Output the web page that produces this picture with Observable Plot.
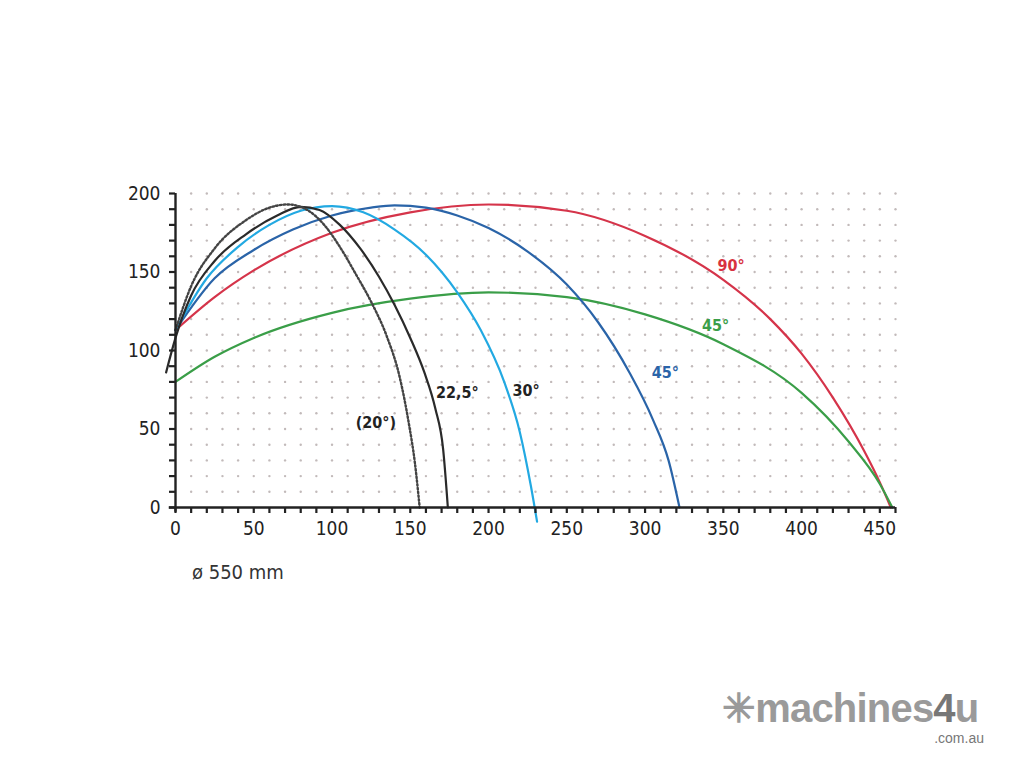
<!DOCTYPE html>
<html>
<head>
<meta charset="utf-8">
<script src="https://cdn.jsdelivr.net/npm/d3@7"></script>
<script src="https://cdn.jsdelivr.net/npm/@observablehq/plot@0.6"></script>
<style>
  html, body { margin: 0; padding: 0; background: #fff; }
  #wrap { position: relative; width: 1024px; height: 768px; overflow: hidden; }
  #chart { position: absolute; left: 0; top: 0; }
  #caption { position: absolute; left: 192px; top: 560px; font-family: "Liberation Sans Narrow", "DejaVu Sans Condensed", "Liberation Sans", sans-serif; font-size: 20px; color: #333; }
  #brand { position: absolute; left: 722px; top: 690px; width: 266px; font-family: "Liberation Sans", Arial, sans-serif; color: #9a9a9a; line-height: 1; }
  #brand .main { display: block; font-size: 40px; font-weight: bold; letter-spacing: -0.8px; white-space: nowrap; line-height: 36px; }
  #brand .main .four { color: #777; }
  #brand .sub { display: block; text-align: right; margin-top: 5px; padding-right: 4px; font-size: 14px; line-height: 14px; color: #777; }
</style>
</head>
<body>
<div id="wrap">
  <div id="chart"></div>
  <div id="caption">ø 550 mm</div>
  <div id="brand"><span class="main">✳machines<span class="four">4</span>u</span><span class="sub">.com.au</span></div>
</div>
<script>
// ---- data ----
const xTicks = [0, 50, 100, 150, 200, 250, 300, 350, 400, 450];
const yTicks = [0, 50, 100, 150, 200];

const curve20 = [[0,113],[10,141],[25,165],[45,183],[60,191],[72,193],[85,189],[95,180],[105,166],[115,149],[125,131],[135,109],[143,84],[149,54],[153,28],[156,0]];
const curve22 = [[-6,86],[0,108],[10,135],[25,157],[45,174],[65,186],[80,191.5],[92,189.5],[105,180],[118,165],[130,147],[140,129],[150,108],[159,86],[166,63],[171,37],[174,0]];
const curve30 = [[0,113],[20,146],[40,166],[60,180],[80,189],[100,192],[120,188],[140,177],[160,161],[180,137],[195,113],[210,80],[220,48],[227,14],[231,-9]];
const curve45b = [[0,113],[25,146],[50,164],[75,177],[100,186],[125,191],[140,192.5],[160,191],[180,186],[200,178],[225,163],[250,142],[270,118],[290,86],[305,56],[315,30],[322,0]];
const curve90 = [[0,113],[25,134],[50,151],[100,175],[150,188],[200,193],[250,189],[300,173],[350,145],[380,120],[400,98],[420,70],[440,36],[450,16],[457,0]];
const curve45g = [[0,80],[25,96],[50,108],[100,124],[150,133],[200,137],[250,134],[300,123],[350,104],[400,73],[430,42],[450,15],[458,0]];

const labelText = ["(20°)", "22,5°", "30°", "45°", "90°", "45°"];
const labelX = [128, 180, 224, 313, 355, 345];
const labelY = [54, 73, 74, 86, 154, 116];
const labelColor = ["#222", "#222", "#222", "#2a64a8", "#d8323f", "#3a9e48"];

// ---- build ----
const font = '"Liberation Sans Narrow", "DejaVu Sans Condensed", "Liberation Sans", sans-serif';
const toObj = (pts) => pts.map(([x, y]) => ({x, y}));
const grid = [];
for (const gx of d3.range(10, 461, 10)) for (const gy of d3.range(10, 201, 10)) grid.push({x: gx, y: gy});
const labels = labelText.map((t, i) => ({t, x: labelX[i], y: labelY[i], c: labelColor[i]}));

const lineOpts = {x: "x", y: "y", curve: "monotone-x", strokeWidth: 2.2};

const chart = Plot.plot({
  width: 1024,
  height: 768,
  marginLeft: 175,
  marginRight: 129,
  marginTop: 193,
  marginBottom: 261,
  style: {fontFamily: font, background: "transparent"},
  x: {domain: [0, 460], axis: null},
  y: {domain: [0, 200], axis: null},
  marks: [
    Plot.dot(grid, {x: "x", y: "y", r: 1.2, fill: "#c2baba", stroke: null}),
    Plot.line(toObj(curve90), {...lineOpts, stroke: "#d5344a"}),
    Plot.line(toObj(curve45g), {...lineOpts, stroke: "#3a9e48"}),
    Plot.line(toObj(curve45b), {...lineOpts, stroke: "#2a64a8"}),
    Plot.line(toObj(curve30), {...lineOpts, stroke: "#22a9e2"}),
    Plot.line(toObj(curve22), {...lineOpts, stroke: "#2a2a2a"}),
    Plot.line(toObj(curve20), {...lineOpts, stroke: "#444", strokeDasharray: "1.6,2.2", strokeWidth: 2.4}),
    // axis lines
    Plot.ruleX([0], {y1: -3, y2: 200, stroke: "#222", strokeWidth: 2.4}),
    Plot.ruleY([0], {x1: -4, x2: 460, stroke: "#222", strokeWidth: 2.4}),
    // minor + major ticks
    Plot.axisY(d3.range(0, 201, 10), {tickSize: 6, strokeWidth: 2.2, stroke: "#222", tickFormat: () => "", anchor: "left", label: null}),
    Plot.axisX(d3.range(0, 461, 10), {tickSize: 6, strokeWidth: 2.2, stroke: "#222", tickFormat: () => "", anchor: "bottom", label: null}),
    Plot.axisY(yTicks, {tickSize: 0, tickPadding: 15, fontSize: 19, fill: "#222", anchor: "left", label: null}),
    Plot.axisX(xTicks, {tickSize: 0, tickPadding: 14, fontSize: 19, fill: "#222", anchor: "bottom", label: null}),
    // curve labels
    Plot.text(labels, {x: "x", y: "y", text: "t", fill: "c", fontSize: 16, fontWeight: "bold", fontFamily: font})
  ]
});
document.getElementById("chart").appendChild(chart);
</script>
</body>
</html>
